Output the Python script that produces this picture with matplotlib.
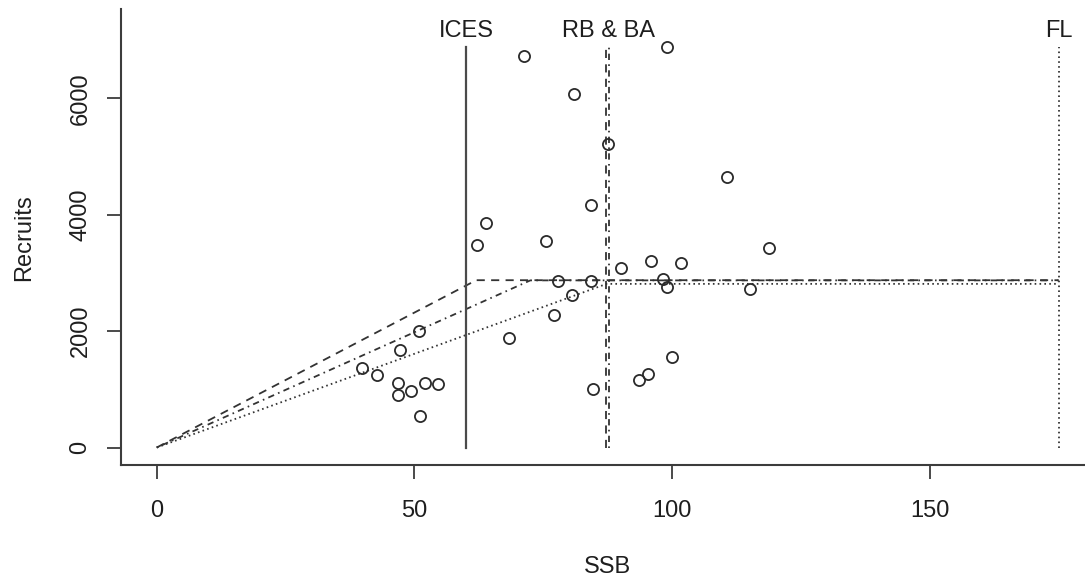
import matplotlib
matplotlib.use("Agg")
import matplotlib.pyplot as plt

plt.rcParams['font.family'] = ['Liberation Sans', 'DejaVu Sans']

# Observed stock-recruit pairs
ssb = [71.2, 81.0, 87.5, 99.0, 110.7, 84.3, 63.9, 62.2, 75.6, 90.1,
       77.9, 84.3, 80.5, 77.0, 68.3, 50.9, 47.3, 39.8, 42.7, 46.8,
       46.8, 49.4, 52.0, 54.6, 51.1, 84.6, 118.9, 95.9, 101.7, 98.3,
       99.0, 115.1, 100.0, 95.3, 93.5]
recruits = [6727, 6079, 5215, 6881, 4640, 4172, 3863, 3479, 3553, 3089,
            2861, 2861, 2626, 2271, 1887, 2007, 1675, 1360, 1240, 1114,
            907, 976, 1114, 1086, 541, 1005, 3428, 3199, 3175, 2890,
            2753, 2729, 1555, 1268, 1160]

# Segmented (hockey-stick) fits: breakpoint and plateau
fit_breakpoints = [62.0, 72.5, 87.3]
fit_plateaus = [2875, 2872, 2812]
fit_styles = ['dashed', 'dashdot', 'dotted']
fit_end = 175

# Reference points (vertical lines)
ref_labels = ['ICES', 'RB & BA', 'RB & BA', 'FL']
ref_values = [60.0, 87.1, 87.7, 175.0]
ref_styles = ['solid', 'dashed', 'dashdot', 'dotted']
text_labels = ['ICES', 'RB & BA', 'FL']
text_x = [60.0, 87.6, 175.0]

xticks = [0, 50, 100, 150]
yticks = [0, 2000, 4000, 6000]

LC = '#333333'
TC = '#1e1e1e'

def dash(style):
    if style == 'dashed':
        return (0, (4.5, 3.5))
    if style == 'dotted':
        return (0, (0.9, 1.8))
    if style == 'dashdot':
        return (0, (0.9, 2.4, 3.5, 2.4))
    return 'solid'

fig = plt.figure(figsize=(10.85, 5.81), dpi=100)
ax = fig.add_axes([0.1112, 0.1997, 0.8977, 0.7843])
ax.set_xlim(-7, 182)
ax.set_ylim(-300, 7530)

ymax = max(recruits)
lw = 1.3

for bp, pl, st in zip(fit_breakpoints, fit_plateaus, fit_styles):
    ax.plot([0, bp, fit_end], [0, pl, pl], color=LC, lw=lw, linestyle=dash(st))

for v, st in zip(ref_values, ref_styles):
    ax.plot([v, v], [0, ymax], color=LC if st != 'solid' else '#4a4a4a',
            lw=lw if st != 'solid' else 1.6, linestyle=dash(st))

for lab, x in zip(text_labels, text_x):
    ax.text(x, 7050, lab, ha='center', va='baseline', fontsize=17, color=TC)

ax.plot(ssb, recruits, linestyle='none', marker='o', markersize=8,
        markerfacecolor='none', markeredgecolor='#2a2a2a', markeredgewidth=1.3)

for s in ['top', 'right']:
    ax.spines[s].set_visible(False)
for s in ['left', 'bottom']:
    ax.spines[s].set_color('#3c3c3c')
    ax.spines[s].set_linewidth(1.5)

ax.set_xticks(xticks)
ax.set_yticks(yticks)
ax.set_xticklabels([str(t) for t in xticks])
ax.set_yticklabels([str(t) for t in yticks], rotation=90, va='center')
ax.tick_params(axis='both', length=10, width=1.3, color='#3c3c3c',
               labelsize=17, labelcolor=TC)
ax.tick_params(axis='x', pad=15)
ax.tick_params(axis='y', pad=11)

ax.set_xlabel('SSB', fontsize=17, color=TC, labelpad=25)
ax.set_ylabel('Recruits', fontsize=17, color=TC, labelpad=25)

fig.savefig('out.png', dpi=100)
